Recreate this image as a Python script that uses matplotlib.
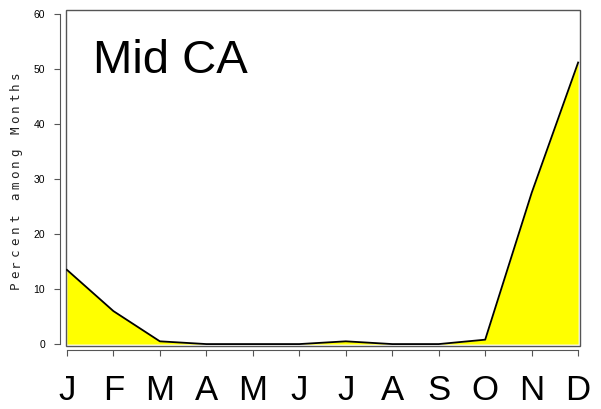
import numpy as np
import matplotlib
matplotlib.use("Agg")
import matplotlib.pyplot as plt
from matplotlib.patches import Rectangle

months = ["J", "F", "M", "A", "M", "J", "J", "A", "S", "O", "N", "D"]
percent = [13.5, 6.0, 0.5, 0.0, 0.0, 0.0, 0.5, 0.0, 0.0, 0.8, 27.5, 51.2]
y_ticks = [0, 10, 20, 30, 40, 50, 60]
region = "Mid CA"
ylabel = "Percent among Months"

plt.rcParams["font.family"] = ["Liberation Sans", "DejaVu Sans"]

fig = plt.figure(figsize=(6.01, 4.09), dpi=100)
W, H = 601, 409
# axes box in pixels: left 66, right 580, top 10, bottom 346
ax = fig.add_axes([66 / W, (H - 346) / H, (580 - 66) / W, (346 - 10) / H])

x = np.arange(len(months))
ax.fill_between(x, 0, percent, color="#ffff00", linewidth=0)
ax.plot(x, percent, color="black", linewidth=1.3)

ax.set_xlim(-0.02, 11.04)
ax.set_ylim(-0.35, 60.75)

# frame of the plotting box
for s in ["top", "right", "left", "bottom"]:
    ax.spines[s].set_visible(False)
ax.add_patch(Rectangle((0, 0), 1, 1, transform=ax.transAxes, fill=False,
                       edgecolor="#555555", linewidth=1.0, clip_on=False))

# detached axis lines
ax.spines["left"].set_visible(True)
ax.spines["left"].set_position(("outward", 4))
ax.spines["left"].set_bounds(0, 60)
ax.spines["left"].set_color("#555555")
ax.spines["bottom"].set_visible(True)
ax.spines["bottom"].set_position(("outward", 3))
ax.spines["bottom"].set_bounds(0, 11)
ax.spines["bottom"].set_color("#555555")

ax.set_yticks(y_ticks)
ax.set_yticklabels([str(v) for v in y_ticks], fontsize=7.5)
ax.set_xticks(x)
ax.set_xticklabels(months, fontsize=25)
ax.tick_params(axis="y", length=4, width=0.8, color="#555555", pad=7)
ax.tick_params(axis="x", length=4, width=0.8, color="#555555", pad=13)

ax.text(0.052, 0.848, region, transform=ax.transAxes, fontsize=34,
        ha="left", va="center")

# letter-spaced y label, one glyph at a time, sharing a baseline
top_px, bottom_px = 75, 285
step = (bottom_px - top_px) / (len(ylabel) - 1)
for i, ch in enumerate(ylabel):
    ypix = bottom_px - i * step
    fig.text(19 / W, 1 - ypix / H, ch, rotation=90, rotation_mode="anchor",
             fontsize=9, family="DejaVu Sans Mono", ha="center", va="baseline",
             color="#222222")

fig.savefig("out.png", dpi=100)
